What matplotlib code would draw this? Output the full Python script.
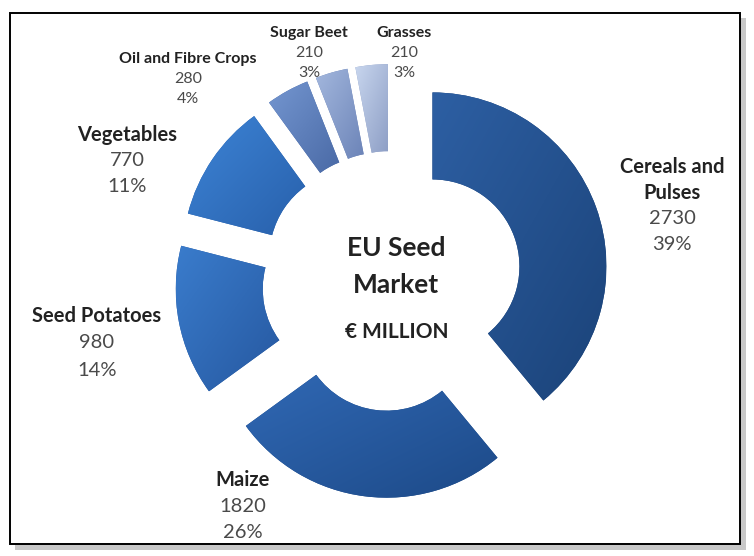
import numpy as np
import matplotlib.pyplot as plt
from matplotlib.patches import Rectangle
from matplotlib.colors import LinearSegmentedColormap

# EU seed market, EUR million
crops = ['Cereals and\nPulses', 'Maize', 'Seed Potatoes', 'Vegetables',
         'Oil and Fibre Crops', 'Sugar Beet', 'Grasses']
values = [2730, 1820, 980, 770, 280, 210, 210]
shares = ['39%', '26%', '14%', '11%', '4%', '3%', '3%']

# gradient ends per slice (light top-left -> dark bottom-right)
light = ['#2d5fa3', '#3068b4', '#3a7ccc', '#3d84d6', '#7496d0', '#a3b7dd', '#c8d6ee']
dark = ['#1b4379', '#1d4a88', '#2658a0', '#2860ab', '#4a6aa6', '#6c84b8', '#8e9fc6']

# label first-line positions (pixels from top-left), font sizes, line steps
label_xy = [(672, 167), (243, 480), (97, 316), (127, 135), (188, 59), (309, 33), (404, 33)]
label_fs = [14.5, 14.5, 14.5, 14.5, 11.5, 11.5, 11.5]
label_step = [26, 26, 27, 26, 20, 20, 20]

W, H = 754, 556
plt.rcParams['font.family'] = ['Lato', 'DejaVu Sans']

fig = plt.figure(figsize=(W / 100, H / 100), dpi=100)
ax = fig.add_axes([0, 0, 1, 1])

# frame with drop shadow
ax.add_patch(Rectangle((15, H - 550), 731, 532, facecolor='#c8c8c8', edgecolor='none'))
ax.add_patch(Rectangle((10, H - 544), 730, 531, facecolor='white', edgecolor='black', lw=1.4))

cx, cy, r = 392, H - 281, 174
gap = 43
wedges, _ = ax.pie(values, colors=dark, explode=[gap] * len(values), startangle=90,
                   counterclock=False, center=(cx, cy), radius=r, frame=True,
                   wedgeprops=dict(width=87, edgecolor='none'))

g = np.linspace(0, 1, 64)
grad = (g[None, :] + (1 - g[:, None])) / 2
for w, c0, c1 in zip(wedges, light, dark):
    bb = w.get_path().get_extents()
    cmap = LinearSegmentedColormap.from_list('w', [c0, c1])
    im = ax.imshow(grad, extent=[bb.x0, bb.x1, bb.y0, bb.y1], origin='lower',
                   cmap=cmap, interpolation='bilinear', zorder=w.get_zorder() + 0.1)
    im.set_clip_path(w)

ax.set_xlim(0, W)
ax.set_ylim(0, H)
ax.set_aspect('equal')
ax.axis('off')

for name, v, s, (x, y), fs, st in zip(crops, values, shares, label_xy, label_fs, label_step):
    lines = name.split('\n')
    for i, ln in enumerate(lines):
        ax.text(x, H - y - i * st, ln, ha='center', va='center', fontsize=fs,
                fontweight='bold', color='#222222', zorder=5)
    y2 = y + st * len(lines)
    ax.text(x, H - y2, str(v), ha='center', va='center', fontsize=fs, color='#4a4a4a', zorder=5)
    ax.text(x, H - y2 - st, s, ha='center', va='center', fontsize=fs, color='#4a4a4a', zorder=5)

ax.text(396, H - 248, 'EU Seed', ha='center', va='center', fontsize=19,
        fontweight='bold', color='#222222')
ax.text(396, H - 285, 'Market', ha='center', va='center', fontsize=19,
        fontweight='bold', color='#222222')
ax.text(397, H - 332, '€ MILLION', ha='center', va='center', fontsize=15,
        fontweight='bold', color='#222222')

fig.savefig('out.png', dpi=100)
